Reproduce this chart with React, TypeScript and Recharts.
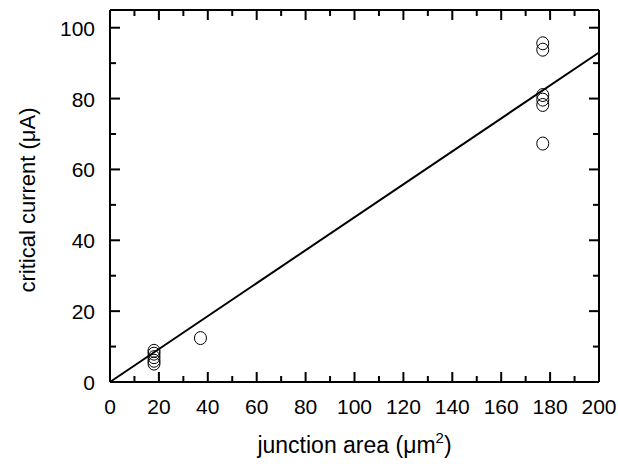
import { ComposedChart, Scatter, XAxis, YAxis, Label } from 'recharts';

const areaValues = [18, 18, 18, 18, 18, 37, 177, 177, 177, 177, 177, 177];
const currentValues = [8.8, 8, 7, 6, 5.2, 12.4, 95.6, 93.8, 81, 79.7, 78.2, 67.3];
const fitArea = [0, 200];
const fitCurrent = [0, 93];
const xTicks = [0, 10, 20, 30, 40, 50, 60, 70, 80, 90, 100, 110, 120, 130, 140, 150, 160, 170, 180, 190, 200];
const yTicks = [0, 10, 20, 30, 40, 50, 60, 70, 80, 90, 100];

const points = areaValues.map((x, i) => ({ x, y: currentValues[i] }));
const fit = fitArea.map((x, i) => ({ x, y: fitCurrent[i] }));

const FONT = '"Liberation Sans", Arial, sans-serif';

function BottomTick({ x, y, payload }: any) {
  const v = payload.value;
  const major = v % 20 === 0;
  return (
    <g>
      <line x1={x} x2={x} y1={y} y2={y - (major ? 10 : 6)} stroke="#000" strokeWidth={2} />
      {major && (
        <text x={x} y={y + 32} textAnchor="middle" fontSize={21} fontFamily={FONT} fill="#000">
          {v}
        </text>
      )}
    </g>
  );
}

function TopTick({ x, y, payload }: any) {
  const major = payload.value % 20 === 0;
  return <line x1={x} x2={x} y1={y} y2={y + (major ? 10 : 6)} stroke="#000" strokeWidth={2} />;
}

function LeftTick({ x, y, payload }: any) {
  const v = payload.value;
  const major = v % 20 === 0;
  return (
    <g>
      <line x1={x} x2={x + (major ? 10 : 6)} y1={y} y2={y} stroke="#000" strokeWidth={2} />
      {major && (
        <text x={x - 15} y={y + 8} textAnchor="end" fontSize={21} fontFamily={FONT} fill="#000">
          {v}
        </text>
      )}
    </g>
  );
}

function RightTick({ x, y, payload }: any) {
  const major = payload.value % 20 === 0;
  return <line x1={x} x2={x - (major ? 10 : 6)} y1={y} y2={y} stroke="#000" strokeWidth={2} />;
}

function Circle({ cx, cy }: any) {
  return <ellipse cx={cx} cy={cy} rx={6} ry={6.5} fill="none" stroke="#000" strokeWidth={1} />;
}

function NoDot() {
  return <g />;
}

function XTitle({ viewBox }: any) {
  const cx = viewBox.x + viewBox.width / 2;
  return (
    <text x={cx} y={viewBox.y + 71} textAnchor="middle" fontSize={23} fontFamily={FONT} fill="#000">
      junction area (μm
      <tspan dy={-10} fontSize={15}>2</tspan>
      <tspan dy={10}>)</tspan>
    </text>
  );
}

function YTitle({ viewBox }: any) {
  const cy = viewBox.y + viewBox.height / 2 + 4;
  const x = 35;
  return (
    <text
      x={x}
      y={cy}
      textAnchor="middle"
      fontSize={22}
      fontFamily={FONT}
      fill="#000"
      transform={`rotate(-90, ${x}, ${cy})`}
    >
      critical current (μA)
    </text>
  );
}

export default function App() {
  return (
    <div style={{ position: 'absolute', left: 0, top: 0, background: '#fff' }}>
      <ComposedChart width={618} height={464} margin={{ top: 0, right: 9, bottom: 52, left: 49 }}>
        <XAxis
          xAxisId="bottom"
          type="number"
          dataKey="x"
          domain={[0, 200]}
          ticks={xTicks}
          interval={0}
          height={30}
          tickSize={0}
          tickMargin={0}
          tickLine={false}
          axisLine={{ stroke: '#000', strokeWidth: 2 }}
          tick={<BottomTick />}
        >
          <Label content={<XTitle />} />
        </XAxis>
        <XAxis
          xAxisId="top"
          orientation="top"
          type="number"
          dataKey="x"
          domain={[0, 200]}
          ticks={xTicks}
          interval={0}
          height={10}
          tickSize={0}
          tickMargin={0}
          tickLine={false}
          axisLine={{ stroke: '#000', strokeWidth: 2 }}
          tick={<TopTick />}
        />
        <YAxis
          yAxisId="left"
          type="number"
          dataKey="y"
          domain={[0, 105]}
          ticks={yTicks}
          interval={0}
          width={61}
          tickSize={0}
          tickMargin={0}
          tickLine={false}
          axisLine={{ stroke: '#000', strokeWidth: 2 }}
          tick={<LeftTick />}
        >
          <Label content={<YTitle />} />
        </YAxis>
        <YAxis
          yAxisId="right"
          orientation="right"
          type="number"
          dataKey="y"
          domain={[0, 105]}
          ticks={yTicks}
          interval={0}
          width={10}
          tickSize={0}
          tickMargin={0}
          tickLine={false}
          axisLine={{ stroke: '#000', strokeWidth: 2 }}
          tick={<RightTick />}
        />
        {/* invisible series so the mirrored top/right axes get a scale */}
        <Scatter
          xAxisId="top"
          yAxisId="right"
          data={fit}
          shape={<NoDot />}
          isAnimationActive={false}
        />
        <Scatter
          xAxisId="bottom"
          yAxisId="left"
          data={fit}
          line={{ stroke: '#000', strokeWidth: 2 }}
          shape={<NoDot />}
          isAnimationActive={false}
        />
        <Scatter
          xAxisId="bottom"
          yAxisId="left"
          data={points}
          shape={<Circle />}
          isAnimationActive={false}
        />
      </ComposedChart>
    </div>
  );
}
